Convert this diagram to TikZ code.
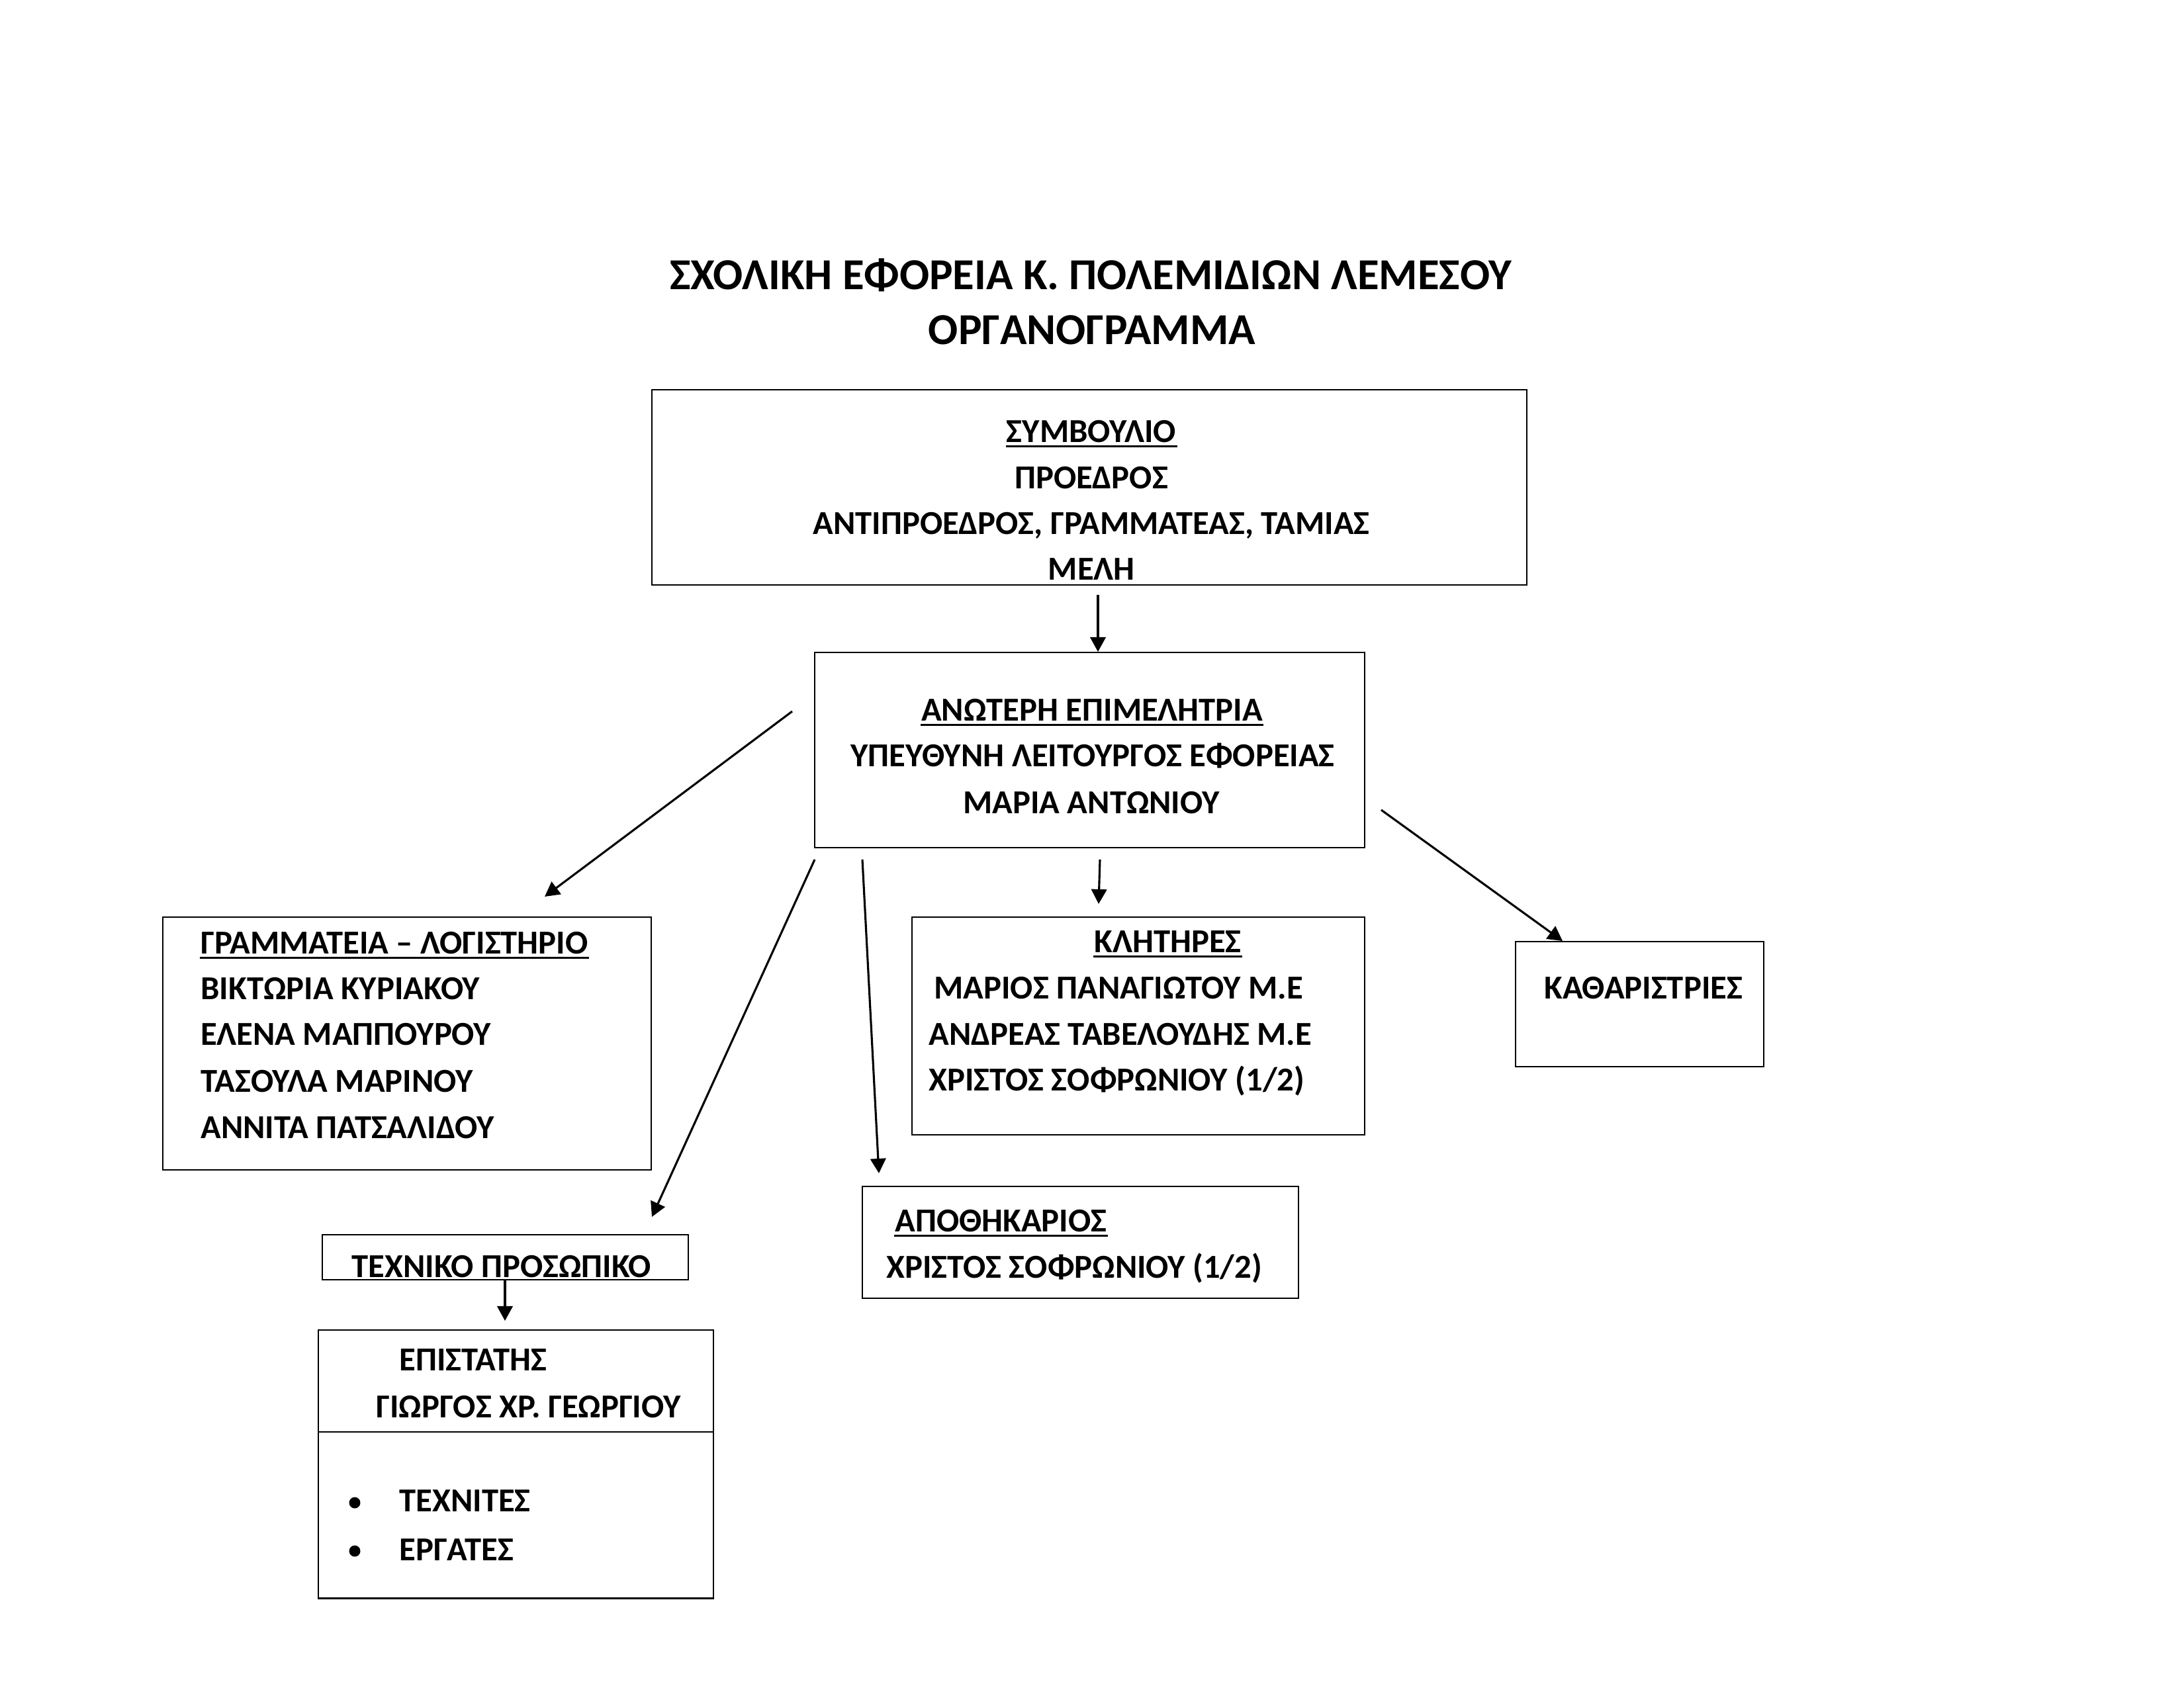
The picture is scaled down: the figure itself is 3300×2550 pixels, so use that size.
\documentclass[tikz,border=0pt]{standalone}
\usepackage{fontspec}
\setmainfont{Carlito}
\usetikzlibrary{arrows.meta,fit}
\begin{document}
\begin{tikzpicture}[x=0.24bp,y=-0.24bp,
  line width=0.7bp,
  box/.style={draw,rectangle,inner sep=0pt,line width=0.7bp},
  txt/.style={inner sep=0pt,font=\fontsize{12.2}{14}\selectfont\bfseries},
  ttl/.style={inner sep=0pt,font=\fontsize{16.1}{19}\selectfont\bfseries},
  ulline/.style={line width=0.65bp},
  arr/.style={-{Triangle[length=5.3bp,width=5.6bp]},line width=0.75bp}]
\useasboundingbox[fill=white] (0,0) rectangle (3300,2550);

% title
\node[ttl,anchor=base] (t1) at (1648,437) {ΣΧΟΛΙΚΗ ΕΦΟΡΕΙΑ Κ. ΠΟΛΕΜΙΔΙΩΝ ΛΕΜΕΣΟΥ};
\node[ttl,anchor=base] (t2) at (1650,520) {ΟΡΓΑΝΟΓΡΑΜΜΑ};

% box corners
\coordinate (s1) at (985,589);  \coordinate (s2) at (2307,884);
\coordinate (a1) at (1231,986); \coordinate (a2) at (2062,1281);
\coordinate (g1) at (246,1386); \coordinate (g2) at (984,1768);
\coordinate (k1) at (1378,1386); \coordinate (k2) at (2062,1715);
\coordinate (c1) at (2290,1423); \coordinate (c2) at (2665,1612);
\coordinate (p1) at (1303,1793); \coordinate (p2) at (1962,1962);
\coordinate (te1) at (487,1866); \coordinate (te2) at (1040,1934);
\coordinate (e1) at (481,2010); \coordinate (e2) at (1078,2415);
\coordinate (ediv) at (481,2164);

\node[box,fit=(s1)(s2)] (symv) {};
\node[box,fit=(a1)(a2)] (anot) {};
\node[box,fit=(g1)(g2)] (gram) {};
\node[box,fit=(k1)(k2)] (klit) {};
\node[box,fit=(c1)(c2)] (kath) {};
\node[box,fit=(p1)(p2)] (apoth) {};
\node[box,fit=(te1)(te2)] (tech) {};
\node[box,fit=(e1)(e2)] (epis) {};
\draw (epis.west |- ediv) -- (epis.east |- ediv);

% Symvoulio
\node[txt,anchor=base] (sy1) at (1649,668) {ΣΥΜΒΟΥΛΙΟ};
\node[txt,anchor=base] (sy2) at (1649,738) {ΠΡΟΕΔΡΟΣ};
\node[txt,anchor=base] (sy3) at (1649,807) {ΑΝΤΙΠΡΟΕΔΡΟΣ, ΓΡΑΜΜΑΤΕΑΣ, ΤΑΜΙΑΣ};
\node[txt,anchor=base] (sy4) at (1649,876) {ΜΕΛΗ};

% Anoteri
\node[txt,anchor=base] (an1) at (1650,1089) {ΑΝΩΤΕΡΗ ΕΠΙΜΕΛΗΤΡΙΑ};
\node[txt,anchor=base] (an2) at (1651,1158) {ΥΠΕΥΘΥΝΗ ΛΕΙΤΟΥΡΓΟΣ ΕΦΟΡΕΙΑΣ};
\node[txt,anchor=base] (an3) at (1649,1229) {ΜΑΡΙΑ ΑΝΤΩΝΙΟΥ};

% Grammateia
\node[txt,anchor=base west] (gr1) at (302,1441) {ΓΡΑΜΜΑΤΕΙΑ – ΛΟΓΙΣΤΗΡΙΟ};
\node[txt,anchor=base west] (gr2) at (302,1510) {ΒΙΚΤΩΡΙΑ ΚΥΡΙΑΚΟΥ};
\node[txt,anchor=base west] (gr3) at (302,1579) {ΕΛΕΝΑ ΜΑΠΠΟΥΡΟΥ};
\node[txt,anchor=base west] (gr4) at (302,1650) {ΤΑΣΟΥΛΑ ΜΑΡΙΝΟΥ};
\node[txt,anchor=base west] (gr5) at (302,1720) {ΑΝΝΙΤΑ ΠΑΤΣΑΛΙΔΟΥ};

% Klitires
\node[txt,anchor=base west] (kl1) at (1652,1439) {ΚΛΗΤΗΡΕΣ};
\node[txt,anchor=base west] (kl2) at (1410,1509) {ΜΑΡΙΟΣ ΠΑΝΑΓΙΩΤΟΥ Μ.Ε};
\node[txt,anchor=base west] (kl3) at (1402,1579) {ΑΝΔΡΕΑΣ ΤΑΒΕΛΟΥΔΗΣ Μ.Ε};
\node[txt,anchor=base west] (kl4) at (1402,1648) {ΧΡΙΣΤΟΣ ΣΟΦΡΩΝΙΟΥ (1/2)};

% Katharistries
\node[txt,anchor=base west] (ka1) at (2332,1509) {ΚΑΘΑΡΙΣΤΡΙΕΣ};

% Apothikarios
\node[txt,anchor=base west] (ap1) at (1351,1861) {ΑΠΟΘΗΚΑΡΙΟΣ};
\node[txt,anchor=base west] (ap2) at (1338,1931) {ΧΡΙΣΤΟΣ ΣΟΦΡΩΝΙΟΥ (1/2)};

% Techniko
\node[txt,anchor=base west] (tp1) at (530,1930) {ΤΕΧΝΙΚΟ ΠΡΟΣΩΠΙΚΟ};

% Epistatis
\node[txt,anchor=base west] (ep1) at (602,2071) {ΕΠΙΣΤΑΤΗΣ};
\node[txt,anchor=base west] (ep2) at (567,2142) {ΓΙΩΡΓΟΣ ΧΡ. ΓΕΩΡΓΙΟΥ};
\node[txt,anchor=base west] (ep3) at (602,2284) {ΤΕΧΝΙΤΕΣ};
\node[txt,anchor=base west] (ep4) at (602,2358) {ΕΡΓΑΤΕΣ};
\fill (536,2271) circle (8.5);
\fill (536,2344) circle (8.5);

% underlines
\foreach \n in {sy1,an1,gr1,kl1,ap1}
  \draw[ulline] ([yshift=-1.5bp]\n.base west) -- ([yshift=-1.5bp]\n.base east);

% arrow end points
\coordinate (r1s) at (1659,899);  \coordinate (r1e) at (1659,985);
\coordinate (r2s) at (1197,1075); \coordinate (r2e) at (823,1355);
\coordinate (r3s) at (1231,1299); \coordinate (r3e) at (985,1839);
\coordinate (r4s) at (1303,1299); \coordinate (r4e) at (1328,1773);
\coordinate (r5s) at (1662,1299); \coordinate (r5e) at (1660,1366);
\coordinate (r6s) at (2087,1224); \coordinate (r6e) at (2361,1422);
\coordinate (r7s) at (763,1934);  \coordinate (r7e) at (763,1996);

\draw[arr] (r1s) -- (r1e);
\draw[arr] (r2s) -- (r2e);
\draw[arr] (r3s) -- (r3e);
\draw[arr] (r4s) -- (r4e);
\draw[arr] (r5s) -- (r5e);
\draw[arr] (r6s) -- (r6e);
\draw[arr] (r7s) -- (r7e);
\end{tikzpicture}
\end{document}
